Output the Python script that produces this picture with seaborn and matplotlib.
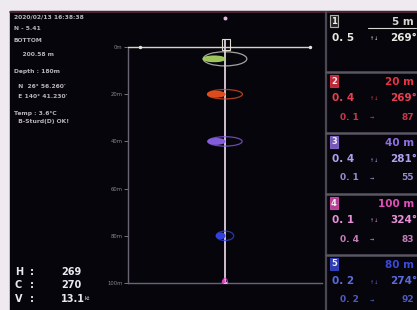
import matplotlib
matplotlib.use("Agg")
import matplotlib.pyplot as plt
from matplotlib.patches import Ellipse, Rectangle
import seaborn as sns
import numpy as np
import pandas as pd

# ---------------- data ----------------
layer_ids = [1, 2, 3, 4, 5]
layer_depths = [5, 20, 40, 100, 80]
speed_a = [0.5, 0.4, 0.4, 0.1, 0.2]
dir_a = [269, 269, 281, 324, 274]
speed_b = [None, 0.1, 0.1, 0.4, 0.2]
dir_b = [None, 87, 55, 83, 92]
ellipse_colors = ["#a6d060", "#e8501e", "#8a62e6", "#e048c8", "#3444e6"]
text_colors = ["#d8d8d0", "#e83444", "#9070e0", "#e050b8", "#3a4ad8"]
row_colors = ["#e8e8e0", "#e84050", "#b0a0ee", "#e890d8", "#5a6ae0"]

depth_ticks = [0, 20, 40, 60, 80, 100]
depth_labels = ["0m", "20m", "40m", "60m", "80m", "100m"]

info_lines = ["2020/02/13 16:38:38", "N - 5.41", "BOTTOM", "    200.58 m",
              "Depth : 180m", "  N  26\u00b0 56.260'", "  E 140\u00b0 41.230'",
              "Temp : 3.6\u00b0C", "  B-Sturd(D) OK!"]
info_y = [17, 28, 40, 54, 71, 86, 96, 113, 122]
hcv_names = ["H", "C", "V"]
hcv_values = ["269", "270", "13.1"]

# ---------------- figure ----------------
sns.set_theme(style="dark")
plt.rcParams['font.family'] = ['DejaVu Sans']
W, H = 417, 310
fig = plt.figure(figsize=(W / 100, H / 100), dpi=100)
fig.patch.set_facecolor("#eeeaf0")

ov = fig.add_axes([0, 0, 1, 1], zorder=0)
ov.set_xlim(0, W)
ov.set_ylim(H, 0)
ov.axis("off")
ov.add_patch(Rectangle((10, 11), W - 10, H - 11, color="#06050c", zorder=0))
ov.plot([10, W], [11.5, 11.5], color="#5a2a38", lw=1.2, zorder=1)
# right panel frame
ov.plot([326, 326], [12, H], color="#4a4652", lw=1.6, zorder=1)
for yy in [72, 133, 194, 255]:
    ov.plot([326, W], [yy, yy], color="#5a5662", lw=1.8, zorder=1)

# left info text
for s, yy in zip(info_lines, info_y):
    ov.text(14, yy, s, color="#b8b4bc", fontsize=4.3, va="center", ha="left",
            fontweight="bold")
for i, (n, v) in enumerate(zip(hcv_names, hcv_values)):
    yy = 272 + i * 13.5
    ov.text(15, yy, n, color="#e8e8f0", fontsize=7, fontweight="bold", va="center")
    ov.text(30, yy, ":", color="#e8e8f0", fontsize=7, fontweight="bold", va="center")
    ov.text(61, yy, v, color="#e8e8f0", fontsize=7, fontweight="bold", va="center")
ov.text(85, 299, "kt", color="#e8e8f0", fontsize=4, va="center")

# right panel boxes
box_top = [12, 72, 133, 194, 255]
for i, lid in enumerate(layer_ids):
    y0 = box_top[i]
    c = text_colors[i]
    ov.text(334, y0 + 9, str(lid), color="#f0f0f0", fontsize=6, fontweight="bold",
            va="center", ha="center",
            bbox=dict(boxstyle="square,pad=0.15", fc=c if i else "#303030",
                      ec=c, lw=0.8, alpha=0.8))
    ov.text(414, y0 + 10, f"{layer_depths[i]} m", color=c, fontsize=7.5,
            fontweight="bold", va="center", ha="right")
    if i == 0:
        ov.plot([368, 416], [y0 + 16, y0 + 16], color=c, lw=0.8)
    rc = row_colors[i]
    ov.text(332, y0 + 26, f"{speed_a[i]:.1f}".replace(".", ". "), color=rc,
            fontsize=7.5, fontweight="bold", va="center", ha="left")
    ov.text(370, y0 + 27, "\u2191\u2193", color=rc, fontsize=3.5, va="center")
    ov.text(417, y0 + 26, f"{dir_a[i]}\u00b0", color=rc, fontsize=7.5,
            fontweight="bold", va="center", ha="right")
    if speed_b[i] is not None:
        ov.text(340, y0 + 45, f"{speed_b[i]:.1f}".replace(".", ". "), color=rc,
                fontsize=6.5, fontweight="bold", va="center", ha="left", alpha=0.85)
        ov.text(370, y0 + 46, "\u2192", color=rc, fontsize=3.5, va="center")
        ov.text(414, y0 + 45, f"{dir_b[i]}", color=rc, fontsize=6.5,
                fontweight="bold", va="center", ha="right", alpha=0.85)

# ---------------- depth profile axes ----------------
px_top, px_bot = 14, 283
dmin = -14.0
ax = fig.add_axes([128 / W, 1 - px_bot / H, (322 - 128) / W, (px_bot - px_top) / H],
                  zorder=2)
ax.set_facecolor("none")
ax.set_xlim(-1, 1)
ax.set_ylim(100, dmin)
ax.grid(False)
for side in ["top", "right"]:
    ax.spines[side].set_visible(False)
ax.spines["left"].set_bounds(0, 100)
ax.spines["left"].set_color("#6a6472")
ax.spines["left"].set_linewidth(1.0)
ax.spines["bottom"].set_color("#6a6472")
ax.spines["bottom"].set_linewidth(1.0)
ax.set_yticks(depth_ticks)
ax.set_yticklabels(depth_labels)
ax.tick_params(axis="y", colors="#8a8490", labelsize=3.8, length=3, width=0.6,
               direction="out", pad=1, left=True)
ax.tick_params(axis="x", bottom=False, labelbottom=False)

# surface line and center line
ax.plot([-1, 0.88], [0, 0], color="#d8d2c8", lw=1.0, zorder=3)
sns.scatterplot(x=[-0.88, 0.88], y=[0, 0], color="#e8e4dc", s=6, linewidth=0,
                ax=ax, zorder=4)
ax.plot([0, 0], [-3, 100], color="#e0d0dc", lw=1.3, zorder=3)
sns.scatterplot(x=[0, 0], y=[-12.3, 100], color="#e0b8d8", s=8, linewidth=0,
                ax=ax, zorder=4)
ax.add_patch(Rectangle((-0.03, -3.2), 0.08, 4.5, fill=False, ec="#e0dcd0",
                       lw=0.8, zorder=4))

k = 0.45
for i in range(len(layer_ids)):
    d = layer_depths[i]
    vx = speed_a[i] * k * np.sin(np.radians(dir_a[i]))
    h_out = 6.0 if i == 0 else 4.0
    oc = "#d8d8d0" if i == 0 else ellipse_colors[i]
    ax.add_patch(Ellipse((0, d), 2 * abs(vx), h_out, fill=False, ec=oc,
                         lw=0.9, alpha=0.75, zorder=3))
    ax.add_patch(Ellipse((vx / 2, d), max(abs(vx), 0.02), 2.4,
                         fc=ellipse_colors[i], ec=ellipse_colors[i], lw=0.8,
                         alpha=0.95, zorder=4))

fig.savefig("out.png", dpi=100, facecolor=fig.get_facecolor())
